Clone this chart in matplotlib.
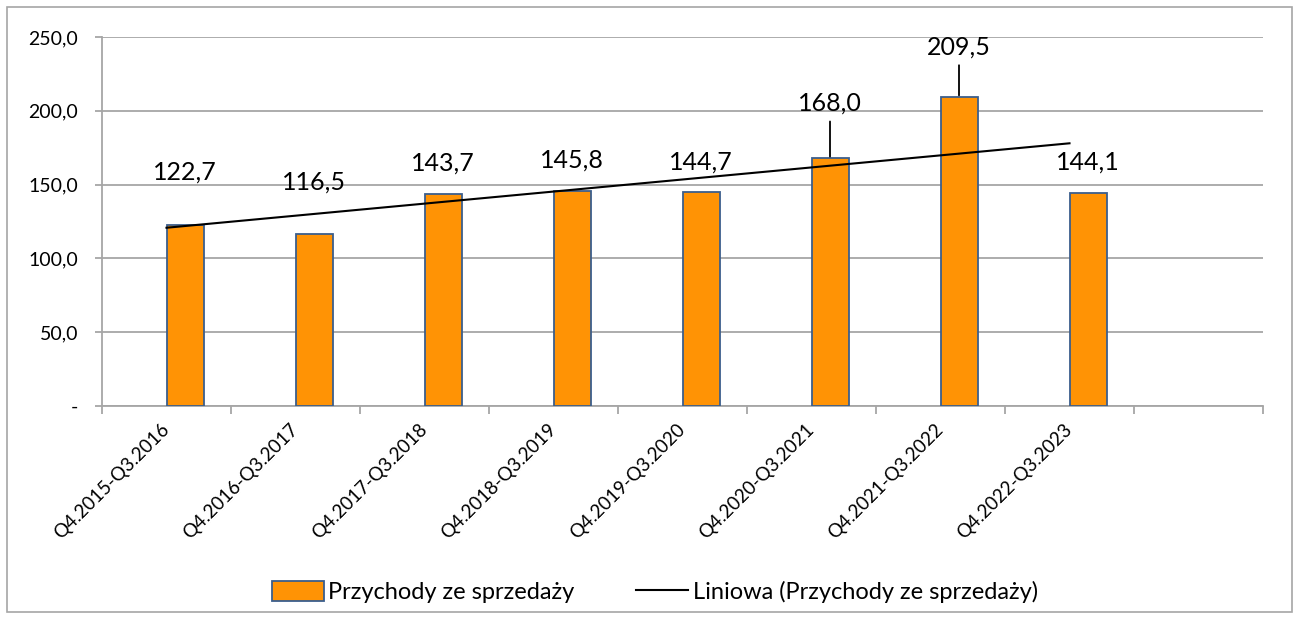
import numpy as np
import matplotlib
matplotlib.use("Agg")
import matplotlib.pyplot as plt
from matplotlib.patches import Rectangle, Patch
from matplotlib.lines import Line2D

#-----------
# DANE
#-----------
categories = ["Q4.2015-Q3.2016", "Q4.2016-Q3.2017", "Q4.2017-Q3.2018",
              "Q4.2018-Q3.2019", "Q4.2019-Q3.2020", "Q4.2020-Q3.2021",
              "Q4.2021-Q3.2022", "Q4.2022-Q3.2023"]
revenue = [122.7, 116.5, 143.7, 145.8, 144.7, 168.0, 209.5, 144.1]
y_ticks = [0, 50, 100, 150, 200, 250]
y_ticklabels = ["-", "50,0", "100,0", "150,0", "200,0", "250,0"]

# label placement (pixels above bar top) and leader-line flags
label_offsets = [53, 52, 31, 31, 30, 55, 50, 31]
leaders = [False, False, False, False, False, True, True, False]

#-----------
# STYL
#-----------
plt.rcParams['font.family'] = ['Lato', 'DejaVu Sans']
orange = '#FF9305'
edge = '#3B5E8C'
grid_col = '#A6A6A6'

fig = plt.figure(figsize=(12.94, 6.2), dpi=100)
ax = fig.add_axes([102/1294, 1-406/620, (1263-102)/1294, (406-37)/620])

n_slots = len(categories) + 1
x = np.arange(1, len(categories) + 1)
bar_w = 37/129

ax.bar(x, revenue, width=bar_w, align='edge', color=orange,
       edgecolor=edge, linewidth=1.3, zorder=3)

# linear trend (Excel "Liniowa")
coef = np.polyfit(x, revenue, 1)
trend = np.polyval(coef, x)
ax.plot(x, trend, color='black', lw=1.5, zorder=4)

# value labels
for xi, v, off, lead in zip(x, revenue, label_offsets, leaders):
    txt = f"{v:.1f}".replace('.', ',')
    kw = {}
    if lead:
        kw['arrowprops'] = dict(arrowstyle='-', color='black', lw=1.3,
                                shrinkA=3, shrinkB=1)
    ax.annotate(txt, xy=(xi + bar_w/2, v), xytext=(0, off),
                textcoords='offset pixels', ha='center', va='center',
                fontsize=18, zorder=5, **kw)

ax.set_xlim(0.5, n_slots + 0.5)
ax.set_ylim(0, 250)
ax.set_yticks(y_ticks)
ax.set_yticklabels(y_ticklabels, fontsize=14)
ax.yaxis.grid(True, color=grid_col, lw=1.3)
ax.set_axisbelow(True)

# ticks at category boundaries, labels at centers
ax.set_xticks(np.arange(0.5, n_slots + 1, 1))
ax.set_xticklabels([])
ax.set_xticks(x, minor=True)
ax.set_xticklabels(categories, minor=True, rotation=45, ha='right',
                   va='center', rotation_mode='anchor', fontsize=13.5)
ax.tick_params(axis='x', which='minor', length=0, pad=15)
ax.tick_params(axis='x', which='major', length=6, color=grid_col, width=1.3)
ax.tick_params(axis='y', length=5, color=grid_col, width=1.3, pad=12)

for s in ['top', 'right']:
    ax.spines[s].set_visible(False)
for s in ['left', 'bottom']:
    ax.spines[s].set_color(grid_col)
    ax.spines[s].set_linewidth(1.3)

# legend
handles = [Patch(facecolor=orange, edgecolor=edge, linewidth=1.3),
           Line2D([0], [0], color='black', lw=1.5)]
fig.legend(handles, ["Przychody ze sprzedaży", "Liniowa (Przychody ze sprzedaży)"],
           loc='center', bbox_to_anchor=(0.506, 0.045), ncol=2, frameon=False,
           fontsize=17, handlelength=2.2, handleheight=0.9, handletextpad=0.2,
           columnspacing=2.6)

# outer chart border
fig.patches.append(Rectangle((7/1294, 8/620), 1285/1294, 605/620,
                             transform=fig.transFigure, fill=False,
                             edgecolor='#A6A6A6', lw=1.2))

fig.savefig("out.png", dpi=100)
